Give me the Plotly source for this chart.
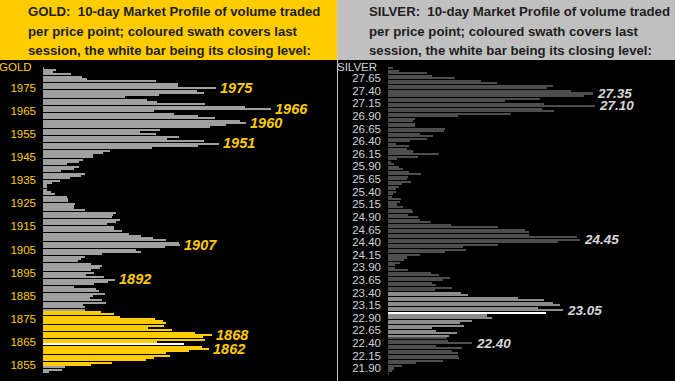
import plotly.graph_objects as go

# ---------------- DATA ----------------
gold_top_price = 1984
gold_volume = [
    1, 13, 10, 28, 39, 44, 113, 135, 135, 173, 154, 161, 116, 82, 104, 114, 162, 202, 228, 111,
    131, 155, 172, 197, 203, 183, 167, 117, 97, 113, 136, 124, 161, 176, 155, 109, 67, 60, 50, 50,
    40, 36, 24, 36, 31, 18, 42, 38, 27, 17, 9, 4, 4, 4, 8, 12, 24, 25, 25, 32,
    31, 31, 42, 73, 70, 69, 77, 73, 64, 71, 71, 79, 86, 98, 110, 123, 136, 137, 122, 93,
    98, 59, 42, 38, 35, 48, 59, 57, 48, 51, 43, 61, 72, 65, 51, 31, 53, 56, 62, 50,
    47, 59, 63, 40, 42, 42, 58, 71, 77, 112, 120, 123, 121, 105, 129, 152, 169, 160, 162, 114,
    141, 159, 166, 146, 123, 127, 111, 103, 69, 48, 22, 19, 6,
]
gold_prices = [gold_top_price - i for i in range(len(gold_volume))]
gold_swath = (1855, 1878)      # last session range
gold_close = 1864
gold_peaks = [1975, 1966, 1960, 1951, 1907, 1892, 1868, 1862]
gold_ticks = list(range(1855, 1976, 10))

silver_top_price = 27.85
silver_volume = [
    5, 11, 39, 44, 67, 93, 109, 165, 159, 183, 205, 196, 152, 117, 156, 207, 154, 166, 123, 70,
    27, 25, 27, 27, 57, 56, 32, 45, 39, 22, 8, 21, 19, 25, 51, 30, 9, 3, 6, 11,
    15, 21, 33, 20, 19, 23, 14, 11, 8, 8, 5, 4, 13, 12, 9, 15, 24, 25, 20, 30,
    32, 43, 63, 110, 137, 141, 141, 189, 192, 170, 110, 75, 78, 57, 32, 19, 16, 12, 7, 7,
    20, 43, 51, 62, 55, 44, 48, 64, 47, 73, 80, 130, 156, 165, 172, 150, 175, 158, 99, 104,
    84, 72, 76, 44, 48, 69, 61, 59, 60, 84, 48, 74, 64, 70, 70, 71, 55, 28, 14, 6,
    4, 1,
]
silver_prices = [round(silver_top_price - 0.05 * i, 2) for i in range(len(silver_volume))]
silver_swath = (22.55, 23.40)
silver_close = 23.00
silver_peaks = [27.35, 27.10, 24.45, 23.05, 22.40]
silver_ticks = [round(21.90 + 0.25 * i, 2) for i in range(24)]

# ---------------- STYLE ----------------
W, H = 675, 381
BAND_H = 60
GOLD_YEL = "#FFCC00"
SILVER_GRAY = "#C0C0C0"
FONT = "Liberation Sans, Arial, sans-serif"


def colours(prices, swath, close, base, swath_col, close_col="#FFFFFF"):
    out = []
    for p in prices:
        if abs(p - close) < 1e-6:
            out.append(close_col)
        elif swath[0] - 1e-6 <= p <= swath[1] + 1e-6:
            out.append(swath_col)
        else:
            out.append(base)
    return out


fig = go.Figure()

fig.add_trace(go.Bar(
    x=gold_volume, y=gold_prices, orientation="h", width=0.62,
    marker=dict(color=colours(gold_prices, gold_swath, gold_close, "#a0a0a0", GOLD_YEL), line=dict(width=0)),
    xaxis="x", yaxis="y", showlegend=False, hoverinfo="skip",
))
fig.add_trace(go.Bar(
    x=silver_volume, y=silver_prices, orientation="h", width=0.031,
    marker=dict(color=colours(silver_prices, silver_swath, silver_close, "#4e4e4e", "#8c8c8c"), line=dict(width=0)),
    xaxis="x2", yaxis="y2", showlegend=False, hoverinfo="skip",
))

gold_x0, gold_x1 = 43, 334
silv_x0, silv_x1 = 388, 675
plot_top = H - BAND_H

gold_px_per_unit = 2.306
g_top = gold_top_price + (67.3 - BAND_H) / gold_px_per_unit
g_bot = (gold_top_price - (len(gold_volume) - 1)) - (H - 371.7) / gold_px_per_unit
s_px_per_step = 2.523
s_top = silver_top_price + (68.0 - BAND_H) / s_px_per_step * 0.05
s_bot = silver_prices[-1] - (H - 373.3) / s_px_per_step * 0.05

axis_common = dict(showgrid=False, zeroline=False, showline=False, fixedrange=True)

fig.update_layout(
    width=W, height=H,
    margin=dict(l=0, r=0, t=0, b=0),
    paper_bgcolor="#000000", plot_bgcolor="rgba(0,0,0,0)",
    bargap=0,
    xaxis=dict(domain=[gold_x0 / W, gold_x1 / W], range=[0, gold_x1 - gold_x0], showticklabels=False, **axis_common),
    yaxis=dict(domain=[0, plot_top / H], range=[g_bot, g_top], tickvals=gold_ticks,
               ticktext=[str(t) for t in gold_ticks], ticks="", ticklabelstandoff=6,
               tickfont=dict(family=FONT, size=11.5, color=GOLD_YEL), anchor="x", **axis_common),
    xaxis2=dict(domain=[silv_x0 / W, silv_x1 / W], range=[0, silv_x1 - silv_x0], showticklabels=False,
                anchor="y2", **axis_common),
    yaxis2=dict(domain=[0, plot_top / H], range=[s_bot, s_top], tickvals=silver_ticks,
                ticktext=[f"{t:.2f}" for t in silver_ticks], ticks="", ticklabelstandoff=6,
                tickfont=dict(family=FONT, size=11.5, color="#d4d4d4"), anchor="x2", **axis_common),
)

shapes = [
    dict(type="rect", xref="paper", yref="paper", x0=0, x1=337 / W, y0=1 - BAND_H / H, y1=1,
         fillcolor=GOLD_YEL, line=dict(width=0), layer="below"),
    dict(type="rect", xref="paper", yref="paper", x0=337 / W, x1=1, y0=1 - BAND_H / H, y1=1,
         fillcolor=SILVER_GRAY, line=dict(width=0), layer="below"),
    dict(type="line", xref="paper", yref="paper", x0=337.5 / W, x1=337.5 / W, y0=0, y1=1 - BAND_H / H,
         line=dict(color="#c8c8c8", width=1)),
]
fig.update_layout(shapes=shapes)

ann = []
title_lines = [
    "per price point; coloured swath covers last",
    "session, the white bar being its closing level:",
]
for name, x0 in (("GOLD:  10-day Market Profile of volume traded", 26), ("SILVER:  10-day Market Profile of volume traded", 367)):
    lines = [name] + title_lines
    for i, txt in enumerate(lines):
        ann.append(dict(xref="paper", yref="paper", x=x0 / W, y=1 - (12 + 19.5 * i) / H,
                        xanchor="left", yanchor="middle", showarrow=False,
                        text=f"<b>{txt}</b>", font=dict(family=FONT, size=13.2, color="#1e1e1e")))

ann.append(dict(xref="x domain", yref="paper", x=0, xshift=-9, y=1 - 67 / H, xanchor="right",
                yanchor="middle", showarrow=False, text="GOLD",
                font=dict(family=FONT, size=11.5, color=GOLD_YEL)))
ann.append(dict(xref="x2 domain", yref="paper", x=0, xshift=-9, y=1 - 67 / H, xanchor="right",
                yanchor="middle", showarrow=False, text="SILVER",
                font=dict(family=FONT, size=11.5, color="#d4d4d4")))

for p in gold_peaks:
    v = gold_volume[gold_prices.index(p)]
    ann.append(dict(xref="x", yref="y", x=v, xshift=2, y=p, xanchor="left", yanchor="middle",
                    showarrow=False, text=f"<b><i>{p}</i></b>",
                    font=dict(family=FONT, size=14.5, color=GOLD_YEL)))
for p in silver_peaks:
    idx = min(range(len(silver_prices)), key=lambda i: abs(silver_prices[i] - p))
    v = silver_volume[idx]
    ann.append(dict(xref="x2", yref="y2", x=v, xshift=2, y=p, xanchor="left", yanchor="middle",
                    showarrow=False, text=f"<b><i>{p:.2f}</i></b>",
                    font=dict(family=FONT, size=13.5, color="#d8d8d8")))

fig.update_layout(annotations=ann)
fig.write_html(
    "out.html",
    config={"displayModeBar": False},
    post_script="document.body.style.margin='0';document.body.style.padding='0';"
                "document.body.style.background='#000';document.body.style.overflow='hidden';",
)
